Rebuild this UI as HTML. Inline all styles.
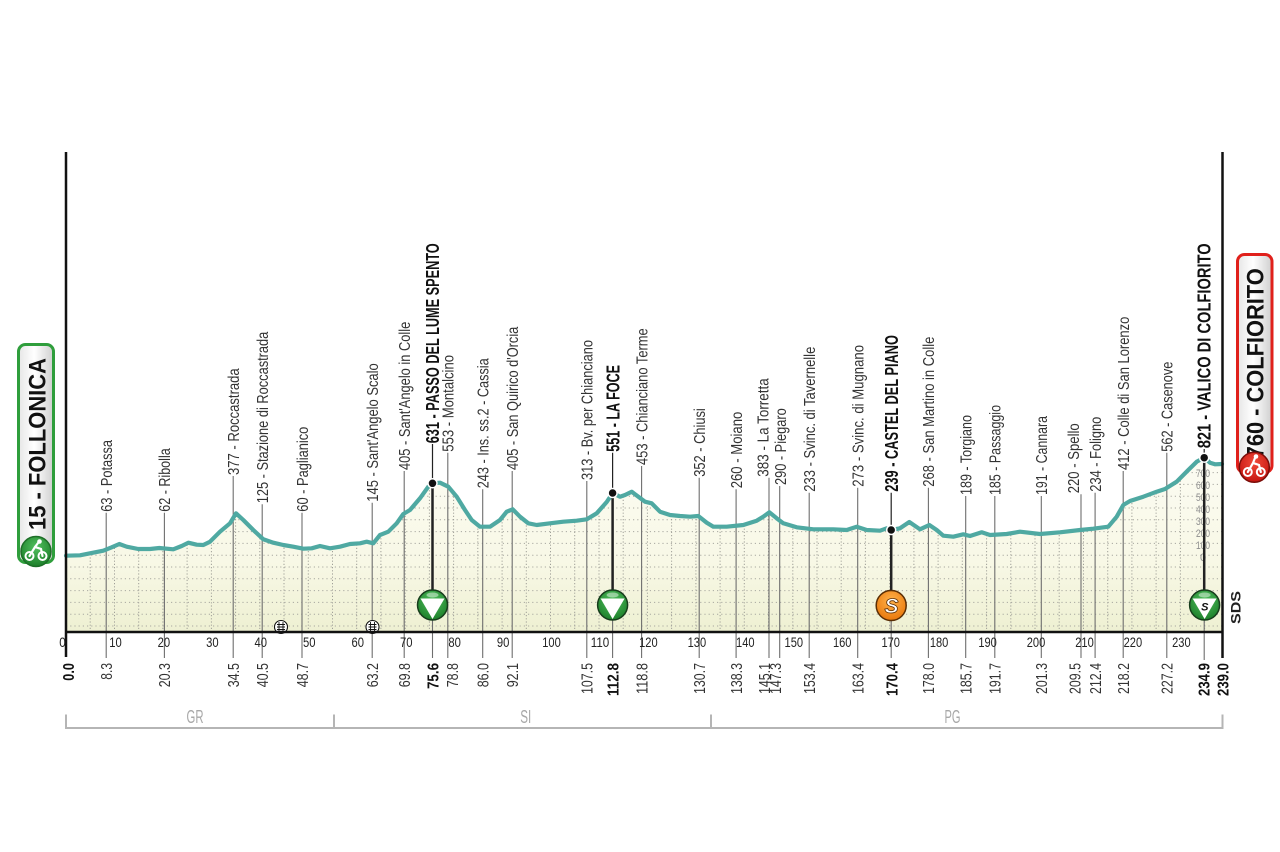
<!DOCTYPE html>
<html>
<head>
<meta charset="utf-8">
<style>
html,body{margin:0;padding:0;background:#fff;}
svg{display:block;}
.l{font-family:"Liberation Sans",sans-serif;font-size:16px;fill:#333;}
.b{font-family:"Liberation Sans",sans-serif;font-size:18px;font-weight:bold;fill:#111;}
.k{font-family:"Liberation Sans",sans-serif;font-size:16px;fill:#333;text-anchor:end;}
.kb{font-family:"Liberation Sans",sans-serif;font-size:16px;font-weight:bold;fill:#111;text-anchor:end;}
.t{font-family:"Liberation Sans",sans-serif;font-size:14px;fill:#222;text-anchor:middle;}
.e{font-family:"Liberation Sans",sans-serif;font-size:11px;fill:#8e8e8e;text-anchor:middle;}
.r{font-family:"Liberation Sans",sans-serif;font-size:18px;fill:#a8a8a8;text-anchor:middle;}
.box{font-family:"Liberation Sans",sans-serif;font-size:24px;font-weight:bold;fill:#111;}
</style>
</head>
<body>
<svg width="1280" height="852" viewBox="0 0 1280 852" xmlns="http://www.w3.org/2000/svg">
<defs>
<linearGradient id="fillg" x1="0" y1="0" x2="0" y2="1" gradientUnits="objectBoundingBox">
<stop offset="0" stop-color="#fcfcf3"/>
<stop offset="0.6" stop-color="#f8f8e6"/>
<stop offset="1" stop-color="#eef0d2"/>
</linearGradient>
<linearGradient id="boxg" x1="0" y1="0" x2="1" y2="0">
<stop offset="0" stop-color="#e6e6e6"/>
<stop offset="0.45" stop-color="#ffffff"/>
<stop offset="1" stop-color="#cfcfcf"/>
</linearGradient>
<radialGradient id="gg" cx="0.5" cy="0.35" r="0.65">
<stop offset="0" stop-color="#52c05e"/>
<stop offset="1" stop-color="#1c7f2a"/>
</radialGradient>
<radialGradient id="og" cx="0.5" cy="0.35" r="0.65">
<stop offset="0" stop-color="#ffb24a"/>
<stop offset="1" stop-color="#e9780c"/>
</radialGradient>
<radialGradient id="rg" cx="0.5" cy="0.35" r="0.65">
<stop offset="0" stop-color="#f04a3a"/>
<stop offset="1" stop-color="#c5150f"/>
</radialGradient>
<clipPath id="clip">
<path d="M66,632 L66,555.7 80,555.3 90,553.3 103.3,550.7 111.7,547.3 119.3,544 126.7,546.7 138.3,549 150,549 159.3,548 173.3,549.3 181.7,546 188.3,542.7 196.7,544.7 203.3,545 210,541.7 220,531.7 230,523.3 236,513.3 243.3,520 253.3,530 263.3,539.3 273.3,542.7 283.3,545 293.3,546.7 303.3,548.7 311.7,548.3 320,546 330,548.3 340,546.7 350,544 360,543.3 366.7,541.7 373.3,543.3 380,535 388.3,531.7 396.7,523.3 403.3,514 410,510 420,498.3 428.3,486.7 432.7,483.3 440,482.7 448.3,486.7 456.7,496.7 465,510 471.7,520 480,526.7 490,526.7 500,520 506.7,511.7 512.7,509.3 520,516.7 528.3,523.3 536.7,525 550,523.3 563.3,521.7 576.7,520.7 586.7,519.3 596.7,513.3 606.7,502 612.7,493 620,496.7 625,495 631.7,491.7 638.3,496.7 645,501.7 651.7,503.3 660,511.7 670,515 680,516 690,516.7 698.3,516 706.7,522.7 713.3,526.7 726.7,526.7 743.3,525 756.7,520.7 763.3,516.7 769.3,512.3 776.7,518.3 783.3,523.3 796.7,527.3 813.3,529.3 833.3,529.3 846.7,530 856.7,526.7 866.7,530 880,530.7 886.7,528.3 891,530 900,528.3 909.3,522 920,529.3 929.3,525 936.7,530 943.3,535.7 953.3,536.7 963.3,534.3 970,536 981.7,532.3 990,535 1006.7,534 1020,531.7 1040,534 1060,532.3 1080,530 1093.3,528.7 1108.3,526.7 1116.7,516.7 1123.3,505 1130,501 1143.3,496.7 1156.7,491.7 1165,489 1176.7,481.7 1188.3,470 1196.7,461.7 1204.3,457.7 1210,462.7 1215,464.3 1223,464 L1223,632 Z"/>
</clipPath>
</defs>

<!-- fill -->
<rect x="66" y="455" width="1157" height="177" fill="url(#fillg)" clip-path="url(#clip)"/>

<!-- grid -->
<g clip-path="url(#clip)">
<path d="M66,626H1223M66,614.2H1223M66,602.4H1223M66,590.6H1223M66,578.8H1223M66,567H1223M66,555.2H1223M66,543.4H1223M66,531.6H1223M66,519.8H1223M66,508H1223M66,496.2H1223M66,484.4H1223M66,472.6H1223" stroke="#a8a8a0" stroke-width="1" stroke-dasharray="1.2 3" fill="none"/>
<path d="M90.2,455V632M114.5,455V632M138.7,455V632M162.9,455V632M187.1,455V632M211.4,455V632M235.6,455V632M259.8,455V632M284,455V632M308.3,455V632M332.5,455V632M356.7,455V632M380.9,455V632M405.2,455V632M429.4,455V632M453.6,455V632M477.8,455V632M502.1,455V632M526.3,455V632M550.5,455V632M574.7,455V632M599,455V632M623.2,455V632M647.4,455V632M671.6,455V632M695.9,455V632M720.1,455V632M744.3,455V632M768.5,455V632M792.8,455V632M817,455V632M841.2,455V632M865.4,455V632M889.7,455V632M913.9,455V632M938.1,455V632M962.3,455V632M986.6,455V632M1010.8,455V632M1035,455V632M1059.2,455V632M1083.5,455V632M1107.7,455V632M1131.9,455V632M1156.1,455V632M1180.4,455V632M1204.6,455V632" stroke="#a0a098" stroke-width="1" stroke-dasharray="1.2 2" fill="none"/>
</g>

<!-- label lines (regular) -->
<g stroke="#6e6e6e" stroke-width="1.1" fill="none">
<path d="M106.2,512.7V658M164.4,512.7V658M233.2,476V658M262.2,504.3V658M302,512.7V658M372.2,502.7V658M404.2,471V658M447.8,452.7V658M482.7,489.3V658M512.2,471V658M586.8,481V658M641.6,466V658M699.2,477.7V658M736.1,489.3V658M769,477.7V658M779.7,486V658M809.2,492.7V658M857.7,487.7V658M928.4,487.7V658M965.7,496V658M994.8,496V658M1041.3,496V658M1081,494.3V658M1095.1,492.7V658M1123.2,471V658M1166.8,452.7V658"/>
<path d="M432.5,620V658M612.6,620V658M891.2,620V658M1204.2,620V660"/>
</g>
<!-- thin lines from bold labels to dots -->
<g stroke="#222" stroke-width="1.2">
<path d="M432.5,444V483M612.6,452.7V493M891.2,492.7V530M1204.2,449V458"/>
</g>

<!-- elevation scale labels -->
<text class="e" x="1203" y="477" textLength="14" lengthAdjust="spacingAndGlyphs">700</text>
<text class="e" x="1203" y="489" textLength="14" lengthAdjust="spacingAndGlyphs">600</text>
<text class="e" x="1203" y="501" textLength="14" lengthAdjust="spacingAndGlyphs">500</text>
<text class="e" x="1203" y="513" textLength="14" lengthAdjust="spacingAndGlyphs">400</text>
<text class="e" x="1203" y="525" textLength="14" lengthAdjust="spacingAndGlyphs">300</text>
<text class="e" x="1203" y="537" textLength="14" lengthAdjust="spacingAndGlyphs">200</text>
<text class="e" x="1203" y="549" textLength="14" lengthAdjust="spacingAndGlyphs">100</text>
<text class="e" x="1203" y="561">0</text>

<!-- profile -->
<polyline fill="none" stroke="#4fa9a2" stroke-width="4.2" stroke-linejoin="round" stroke-linecap="round" points="66,555.7 80,555.3 90,553.3 103.3,550.7 111.7,547.3 119.3,544 126.7,546.7 138.3,549 150,549 159.3,548 173.3,549.3 181.7,546 188.3,542.7 196.7,544.7 203.3,545 210,541.7 220,531.7 230,523.3 236,513.3 243.3,520 253.3,530 263.3,539.3 273.3,542.7 283.3,545 293.3,546.7 303.3,548.7 311.7,548.3 320,546 330,548.3 340,546.7 350,544 360,543.3 366.7,541.7 373.3,543.3 380,535 388.3,531.7 396.7,523.3 403.3,514 410,510 420,498.3 428.3,486.7 432.7,483.3 440,482.7 448.3,486.7 456.7,496.7 465,510 471.7,520 480,526.7 490,526.7 500,520 506.7,511.7 512.7,509.3 520,516.7 528.3,523.3 536.7,525 550,523.3 563.3,521.7 576.7,520.7 586.7,519.3 596.7,513.3 606.7,502 612.7,493 620,496.7 625,495 631.7,491.7 638.3,496.7 645,501.7 651.7,503.3 660,511.7 670,515 680,516 690,516.7 698.3,516 706.7,522.7 713.3,526.7 726.7,526.7 743.3,525 756.7,520.7 763.3,516.7 769.3,512.3 776.7,518.3 783.3,523.3 796.7,527.3 813.3,529.3 833.3,529.3 846.7,530 856.7,526.7 866.7,530 880,530.7 886.7,528.3 891,530 900,528.3 909.3,522 920,529.3 929.3,525 936.7,530 943.3,535.7 953.3,536.7 963.3,534.3 970,536 981.7,532.3 990,535 1006.7,534 1020,531.7 1040,534 1060,532.3 1080,530 1093.3,528.7 1108.3,526.7 1116.7,516.7 1123.3,505 1130,501 1143.3,496.7 1156.7,491.7 1165,489 1176.7,481.7 1188.3,470 1196.7,461.7 1204.3,457.7 1210,462.7 1215,464.3 1222,464"/>

<!-- thick marker lines -->
<g stroke="#222" stroke-width="2.5">
<path d="M432.5,483V592M612.6,493V592M891.2,530V592M1204.2,458V592"/>
</g>
<!-- dots -->
<g fill="#111" stroke="#fff" stroke-width="1.5">
<circle cx="432.5" cy="483.3" r="4.5"/>
<circle cx="612.6" cy="493" r="4.5"/>
<circle cx="891.2" cy="530" r="4.5"/>
<circle cx="1204.2" cy="457.7" r="4.5"/>
</g>

<!-- GPM markers -->
<g>
<circle cx="432.5" cy="605" r="15" fill="url(#gg)" stroke="#173d1c" stroke-width="1.5"/>
<ellipse cx="432.5" cy="595" rx="6" ry="2.5" fill="#fff" opacity="0.45"/>
<path d="M420.5,598.5 L444.5,598.5 L432.5,619 Z" fill="#fff"/>
<circle cx="612.6" cy="605" r="15" fill="url(#gg)" stroke="#173d1c" stroke-width="1.5"/>
<ellipse cx="612.6" cy="595" rx="6" ry="2.5" fill="#fff" opacity="0.45"/>
<path d="M600.6,598.5 L624.6,598.5 L612.6,619 Z" fill="#fff"/>
<circle cx="1204.6" cy="605" r="15" fill="url(#gg)" stroke="#173d1c" stroke-width="1.5"/>
<ellipse cx="1204.6" cy="595" rx="6" ry="2.5" fill="#fff" opacity="0.45"/>
<path d="M1192.6,598.5 L1216.6,598.5 L1204.6,619 Z" fill="#fff"/>
<text x="1204.8" y="610.5" font-family="Liberation Sans, sans-serif" font-size="11" font-weight="bold" font-style="italic" fill="#111" text-anchor="middle">S</text>
<!-- sprint -->
<circle cx="891.2" cy="605.5" r="15" fill="url(#og)" stroke="#5a2e05" stroke-width="1.5"/>
<text x="891.5" y="613" font-family="Liberation Sans, sans-serif" font-size="21" font-weight="bold" font-style="italic" fill="#fff" stroke="#5a2e05" stroke-width="0.8" text-anchor="middle">S</text>
</g>

<!-- railway crossing icons -->
<g stroke="#111" stroke-width="1.1" fill="#fff">
<circle cx="281" cy="627" r="6.5"/>
<circle cx="372.5" cy="627" r="6.5"/>
</g>
<g stroke="#111" stroke-width="0.9" fill="none">
<path d="M279,622V632M283,622V632M277,624.5H285M277,627H285M277,629.5H285"/>
<path d="M370.5,622V632M374.5,622V632M368.5,624.5H376.5M368.5,627H376.5M368.5,629.5H376.5"/>
</g>

<!-- axes -->
<g stroke="#111" stroke-width="2.5" fill="none">
<path d="M66,152V657"/>
<path d="M1222.5,152V658"/>
<path d="M65,632H1223.5"/>
</g>

<!-- SDS -->
<text transform="translate(1240.5,624) rotate(-90)" font-family="Liberation Sans, sans-serif" font-size="14" font-weight="bold" fill="#222" textLength="33" lengthAdjust="spacingAndGlyphs">SDS</text>

<!-- top labels regular -->
<text class="l" transform="translate(112,511.7) rotate(-90)" textLength="71.7" lengthAdjust="spacingAndGlyphs">63 - Potassa</text>
<text class="l" transform="translate(170.2,511.7) rotate(-90)" textLength="63.4" lengthAdjust="spacingAndGlyphs">62 - Ribolla</text>
<text class="l" transform="translate(239,475) rotate(-90)" textLength="106.7" lengthAdjust="spacingAndGlyphs">377 - Roccastrada</text>
<text class="l" transform="translate(268,503.3) rotate(-90)" textLength="171.6" lengthAdjust="spacingAndGlyphs">125 - Stazione di Roccastrada</text>
<text class="l" transform="translate(307.8,511.7) rotate(-90)" textLength="85" lengthAdjust="spacingAndGlyphs">60 - Paglianico</text>
<text class="l" transform="translate(378,501.7) rotate(-90)" textLength="138.4" lengthAdjust="spacingAndGlyphs">145 - Sant'Angelo Scalo</text>
<text class="l" transform="translate(410,470) rotate(-90)" textLength="148.3" lengthAdjust="spacingAndGlyphs">405 - Sant'Angelo in Colle</text>
<text class="l" transform="translate(453.6,451.7) rotate(-90)" textLength="96.7" lengthAdjust="spacingAndGlyphs">553 - Montalcino</text>
<text class="l" transform="translate(488.5,488.3) rotate(-90)" textLength="130" lengthAdjust="spacingAndGlyphs">243 - Ins. ss.2 - Cassia</text>
<text class="l" transform="translate(518,470) rotate(-90)" textLength="143.3" lengthAdjust="spacingAndGlyphs">405 - San Quirico d'Orcia</text>
<text class="l" transform="translate(592.6,480) rotate(-90)" textLength="140" lengthAdjust="spacingAndGlyphs">313 - Bv. per Chianciano</text>
<text class="l" transform="translate(647.4,465) rotate(-90)" textLength="136.7" lengthAdjust="spacingAndGlyphs">453 - Chianciano Terme</text>
<text class="l" transform="translate(705,476.7) rotate(-90)" textLength="68.4" lengthAdjust="spacingAndGlyphs">352 - Chiusi</text>
<text class="l" transform="translate(741.9,488.3) rotate(-90)" textLength="76.6" lengthAdjust="spacingAndGlyphs">260 - Moiano</text>
<text class="l" transform="translate(768.5,476.7) rotate(-90)" textLength="98.4" lengthAdjust="spacingAndGlyphs">383 - La Torretta</text>
<text class="l" transform="translate(785.8,485) rotate(-90)" textLength="76.7" lengthAdjust="spacingAndGlyphs">290 - Piegaro</text>
<text class="l" transform="translate(815,491.7) rotate(-90)" textLength="145" lengthAdjust="spacingAndGlyphs">233 - Svinc. di Tavernelle</text>
<text class="l" transform="translate(863.5,486.7) rotate(-90)" textLength="141.7" lengthAdjust="spacingAndGlyphs">273 - Svinc. di Mugnano</text>
<text class="l" transform="translate(934.2,486.7) rotate(-90)" textLength="150" lengthAdjust="spacingAndGlyphs">268 - San Martino in Colle</text>
<text class="l" transform="translate(971.5,495) rotate(-90)" textLength="80" lengthAdjust="spacingAndGlyphs">189 - Torgiano</text>
<text class="l" transform="translate(1000.6,495) rotate(-90)" textLength="90" lengthAdjust="spacingAndGlyphs">185 - Passaggio</text>
<text class="l" transform="translate(1047.1,495) rotate(-90)" textLength="79" lengthAdjust="spacingAndGlyphs">191 - Cannara</text>
<text class="l" transform="translate(1079.1,493.3) rotate(-90)" textLength="70" lengthAdjust="spacingAndGlyphs">220 - Spello</text>
<text class="l" transform="translate(1100.9,491.7) rotate(-90)" textLength="75" lengthAdjust="spacingAndGlyphs">234 - Foligno</text>
<text class="l" transform="translate(1129,470) rotate(-90)" textLength="153.3" lengthAdjust="spacingAndGlyphs">412 - Colle  di San Lorenzo</text>
<text class="l" transform="translate(1172.6,451.7) rotate(-90)" textLength="90" lengthAdjust="spacingAndGlyphs">562 - Casenove</text>

<!-- bold top labels -->
<text class="b" transform="translate(439,443.3) rotate(-90)" textLength="200" lengthAdjust="spacingAndGlyphs">631 - PASSO DEL LUME SPENTO</text>
<text class="b" transform="translate(619.5,451.7) rotate(-90)" textLength="86.7" lengthAdjust="spacingAndGlyphs">551 - LA FOCE</text>
<text class="b" transform="translate(898,491.7) rotate(-90)" textLength="156.7" lengthAdjust="spacingAndGlyphs">239 - CASTEL DEL PIANO</text>
<text class="b" transform="translate(1210.5,448.3) rotate(-90)" textLength="205" lengthAdjust="spacingAndGlyphs">821 - VALICO DI COLFIORITO</text>

<!-- tick labels -->
<text class="t" x="62.5" y="647" textLength="6.5" lengthAdjust="spacingAndGlyphs">0</text>
<text class="t" x="115.5" y="647" textLength="12.5" lengthAdjust="spacingAndGlyphs">10</text>
<text class="t" x="163.9" y="647" textLength="12.5" lengthAdjust="spacingAndGlyphs">20</text>
<text class="t" x="212.4" y="647" textLength="12.5" lengthAdjust="spacingAndGlyphs">30</text>
<text class="t" x="260.8" y="647" textLength="12.5" lengthAdjust="spacingAndGlyphs">40</text>
<text class="t" x="309.3" y="647" textLength="12.5" lengthAdjust="spacingAndGlyphs">50</text>
<text class="t" x="357.7" y="647" textLength="12.5" lengthAdjust="spacingAndGlyphs">60</text>
<text class="t" x="406.2" y="647" textLength="12.5" lengthAdjust="spacingAndGlyphs">70</text>
<text class="t" x="454.6" y="647" textLength="12.5" lengthAdjust="spacingAndGlyphs">80</text>
<text class="t" x="503.1" y="647" textLength="12.5" lengthAdjust="spacingAndGlyphs">90</text>
<text class="t" x="551.5" y="647" textLength="18.5" lengthAdjust="spacingAndGlyphs">100</text>
<text class="t" x="600" y="647" textLength="18.5" lengthAdjust="spacingAndGlyphs">110</text>
<text class="t" x="648.4" y="647" textLength="18.5" lengthAdjust="spacingAndGlyphs">120</text>
<text class="t" x="696.9" y="647" textLength="18.5" lengthAdjust="spacingAndGlyphs">130</text>
<text class="t" x="745.3" y="647" textLength="18.5" lengthAdjust="spacingAndGlyphs">140</text>
<text class="t" x="793.8" y="647" textLength="18.5" lengthAdjust="spacingAndGlyphs">150</text>
<text class="t" x="842.2" y="647" textLength="18.5" lengthAdjust="spacingAndGlyphs">160</text>
<text class="t" x="890.7" y="647" textLength="18.5" lengthAdjust="spacingAndGlyphs">170</text>
<text class="t" x="939.1" y="647" textLength="18.5" lengthAdjust="spacingAndGlyphs">180</text>
<text class="t" x="987.6" y="647" textLength="18.5" lengthAdjust="spacingAndGlyphs">190</text>
<text class="t" x="1036" y="647" textLength="18.5" lengthAdjust="spacingAndGlyphs">200</text>
<text class="t" x="1084.5" y="647" textLength="18.5" lengthAdjust="spacingAndGlyphs">210</text>
<text class="t" x="1132.9" y="647" textLength="18.5" lengthAdjust="spacingAndGlyphs">220</text>
<text class="t" x="1181.4" y="647" textLength="18.5" lengthAdjust="spacingAndGlyphs">230</text>

<!-- bottom km labels -->
<text class="kb" transform="translate(74,663) rotate(-90)" textLength="17.7" lengthAdjust="spacingAndGlyphs">0.0</text>
<text class="k" transform="translate(112,663) rotate(-90)" textLength="16.7" lengthAdjust="spacingAndGlyphs">8.3</text>
<text class="k" transform="translate(170.2,663) rotate(-90)" textLength="24.3" lengthAdjust="spacingAndGlyphs">20.3</text>
<text class="k" transform="translate(239,663) rotate(-90)" textLength="24.3" lengthAdjust="spacingAndGlyphs">34.5</text>
<text class="k" transform="translate(268,663) rotate(-90)" textLength="24.3" lengthAdjust="spacingAndGlyphs">40.5</text>
<text class="k" transform="translate(307.8,663) rotate(-90)" textLength="24.3" lengthAdjust="spacingAndGlyphs">48.7</text>
<text class="k" transform="translate(378,663) rotate(-90)" textLength="24.3" lengthAdjust="spacingAndGlyphs">63.2</text>
<text class="k" transform="translate(410,663) rotate(-90)" textLength="24.3" lengthAdjust="spacingAndGlyphs">69.8</text>
<text class="kb" transform="translate(438.3,663) rotate(-90)" textLength="26" lengthAdjust="spacingAndGlyphs">75.6</text>
<text class="k" transform="translate(457.8,663) rotate(-90)" textLength="24.3" lengthAdjust="spacingAndGlyphs">78.8</text>
<text class="k" transform="translate(488.5,663) rotate(-90)" textLength="24.3" lengthAdjust="spacingAndGlyphs">86.0</text>
<text class="k" transform="translate(518,663) rotate(-90)" textLength="24.3" lengthAdjust="spacingAndGlyphs">92.1</text>
<text class="k" transform="translate(592.6,663) rotate(-90)" textLength="31" lengthAdjust="spacingAndGlyphs">107.5</text>
<text class="kb" transform="translate(618.5,663) rotate(-90)" textLength="33" lengthAdjust="spacingAndGlyphs">112.8</text>
<text class="k" transform="translate(647.4,663) rotate(-90)" textLength="31" lengthAdjust="spacingAndGlyphs">118.8</text>
<text class="k" transform="translate(705,663) rotate(-90)" textLength="31" lengthAdjust="spacingAndGlyphs">130.7</text>
<text class="k" transform="translate(741.9,663) rotate(-90)" textLength="31" lengthAdjust="spacingAndGlyphs">138.3</text>
<text class="k" transform="translate(769.8,663) rotate(-90)" textLength="31" lengthAdjust="spacingAndGlyphs">145.1</text>
<text class="k" transform="translate(780.8,663) rotate(-90)" textLength="31" lengthAdjust="spacingAndGlyphs">147.3</text>
<text class="k" transform="translate(815,663) rotate(-90)" textLength="31" lengthAdjust="spacingAndGlyphs">153.4</text>
<text class="k" transform="translate(863.5,663) rotate(-90)" textLength="31" lengthAdjust="spacingAndGlyphs">163.4</text>
<text class="kb" transform="translate(897.6,663) rotate(-90)" textLength="33" lengthAdjust="spacingAndGlyphs">170.4</text>
<text class="k" transform="translate(934.2,663) rotate(-90)" textLength="31" lengthAdjust="spacingAndGlyphs">178.0</text>
<text class="k" transform="translate(971.5,663) rotate(-90)" textLength="31" lengthAdjust="spacingAndGlyphs">185.7</text>
<text class="k" transform="translate(1000.6,663) rotate(-90)" textLength="31" lengthAdjust="spacingAndGlyphs">191.7</text>
<text class="k" transform="translate(1047.1,663) rotate(-90)" textLength="31" lengthAdjust="spacingAndGlyphs">201.3</text>
<text class="k" transform="translate(1080.3,663) rotate(-90)" textLength="31" lengthAdjust="spacingAndGlyphs">209.5</text>
<text class="k" transform="translate(1100.9,663) rotate(-90)" textLength="31" lengthAdjust="spacingAndGlyphs">212.4</text>
<text class="k" transform="translate(1129,663) rotate(-90)" textLength="31" lengthAdjust="spacingAndGlyphs">218.2</text>
<text class="k" transform="translate(1172.6,663) rotate(-90)" textLength="31" lengthAdjust="spacingAndGlyphs">227.2</text>
<text class="kb" transform="translate(1209.5,663) rotate(-90)" textLength="33" lengthAdjust="spacingAndGlyphs">234.9</text>
<text class="kb" transform="translate(1228.5,663) rotate(-90)" textLength="33" lengthAdjust="spacingAndGlyphs">239.0</text>

<!-- region brackets -->
<g stroke="#b5b5b5" stroke-width="2" fill="none">
<path d="M66,728H1222.5M66,714.5V729M334,714.5V728M711,714.5V728M1222.5,714.5V729"/>
</g>
<text class="r" x="195" y="723" textLength="17" lengthAdjust="spacingAndGlyphs">GR</text>
<text class="r" x="525.7" y="723" textLength="11" lengthAdjust="spacingAndGlyphs">SI</text>
<text class="r" x="952.5" y="723" textLength="16" lengthAdjust="spacingAndGlyphs">PG</text>

<!-- start box -->
<rect x="18.5" y="344.5" width="35" height="218" rx="7" fill="url(#boxg)" stroke="#2f9e3c" stroke-width="3"/>
<text class="box" transform="translate(45.5,530) rotate(-90)" textLength="172" lengthAdjust="spacingAndGlyphs">15 - FOLLONICA</text>
<circle cx="36" cy="551.5" r="15" fill="url(#gg)" stroke="#1e6e28" stroke-width="1.5"/>
<g stroke="#fff" stroke-width="2" fill="none">
<circle cx="29.5" cy="556" r="4"/>
<circle cx="42.5" cy="556" r="4"/>
</g>
<path d="M29.5,556 L35,547 L41,549 L42.5,556 M35,547 L38,543" stroke="#fff" stroke-width="2.2" fill="none" stroke-linecap="round"/>
<circle cx="39.5" cy="541.5" r="2.3" fill="#fff"/>

<!-- end box -->
<rect x="1237.5" y="254.5" width="34.5" height="218" rx="7" fill="url(#boxg)" stroke="#e0201b" stroke-width="3"/>
<text class="box" transform="translate(1263.5,458.3) rotate(-90)" textLength="190" lengthAdjust="spacingAndGlyphs">760 - COLFIORITO</text>
<circle cx="1254.3" cy="467.3" r="15" fill="url(#rg)" stroke="#7a0d09" stroke-width="1.5"/>
<g stroke="#fff" stroke-width="2" fill="none">
<circle cx="1247.8" cy="472" r="4"/>
<circle cx="1260.8" cy="472" r="4"/>
</g>
<path d="M1247.8,472 L1253,463 L1259,465 L1260.8,472 M1253,463 L1255,458" stroke="#fff" stroke-width="2.2" fill="none" stroke-linecap="round"/>
<circle cx="1256" cy="456.5" r="2.3" fill="#fff"/>
</svg>
</body>
</html>
